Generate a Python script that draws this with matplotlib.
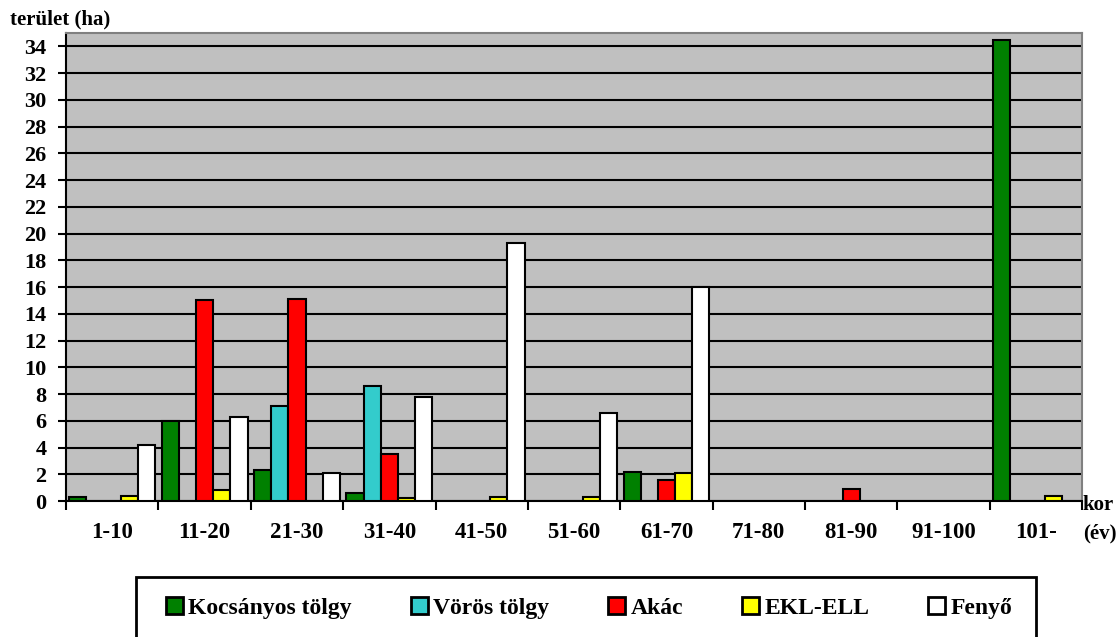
import numpy as np
import matplotlib.pyplot as plt
from matplotlib.patches import Patch, Rectangle

plt.rcParams['font.family'] = ['Liberation Serif', 'DejaVu Serif']
plt.rcParams['font.weight'] = 'bold'

categories = ["1-10", "11-20", "21-30", "31-40", "41-50", "51-60",
              "61-70", "71-80", "81-90", "91-100", "101-"]
kocsanyos = [0.3, 6.0, 2.3, 0.6, 0, 0, 2.2, 0, 0, 0, 34.5]
voros = [0, 0, 7.1, 8.6, 0, 0, 0, 0, 0, 0, 0]
akac = [0, 15.0, 15.1, 3.5, 0, 0, 1.6, 0, 0.9, 0, 0]
ekl_ell = [0.4, 0.8, 0, 0.2, 0.3, 0.3, 2.1, 0, 0, 0, 0.4]
fenyo = [4.2, 6.3, 2.1, 7.8, 19.3, 6.6, 16.0, 0, 0, 0, 0]

series = [
    ("Kocsányos tölgy", kocsanyos, "#008000"),
    ("Vörös tölgy", voros, "#33CCCC"),
    ("Akác", akac, "#FF0000"),
    ("EKL-ELL", ekl_ell, "#FFFF00"),
    ("Fenyő", fenyo, "#FFFFFF"),
]

fig = plt.figure(figsize=(11.18, 6.37), dpi=100)
ax = fig.add_axes([0.059, 0.2135, 0.909, 0.7345])
ax.set_facecolor("#C0C0C0")

x = np.arange(len(categories))
w = 0.186
for i, (name, vals, col) in enumerate(series):
    vals = np.array(vals)
    mask = vals > 0
    ax.bar(x[mask] + (i - 2) * w, vals[mask], width=w, color=col,
           edgecolor="black", linewidth=1.5, zorder=3)

ax.set_xlim(-0.5, len(categories) - 0.5)
ax.set_ylim(0, 35)
ax.set_yticks(range(0, 35, 2))
ax.yaxis.grid(True, color="black", linewidth=1.5, zorder=1)
ax.set_axisbelow(True)

ax.set_xticks(x)
ax.set_xticklabels(categories, fontsize=16.5, fontweight="bold")
ax.set_xticks(np.arange(-0.5, len(categories), 1), minor=True)
ax.tick_params(axis="x", which="major", length=0, pad=15)
ax.tick_params(axis="x", which="minor", length=6.5, width=1.5,
               direction="out")
ax.tick_params(axis="y", length=6, width=1.5, direction="out",
               labelsize=16, pad=8)
for lab in ax.get_yticklabels():
    lab.set_fontweight("bold")

for side in ["top", "right"]:
    ax.spines[side].set_color("#808080")
    ax.spines[side].set_linewidth(1.5)
for side in ["left", "bottom"]:
    ax.spines[side].set_color("black")
    ax.spines[side].set_linewidth(1.5)

fig.text(0.009, 0.969, "terület (ha)", fontsize=15, fontweight="bold",
         va="center", ha="left")
fig.text(0.968, 0.199, "kor", fontsize=15, fontweight="bold",
         va="baseline", ha="left")
fig.text(0.9687, 0.163, "(év)", fontsize=15, fontweight="bold",
         va="center", ha="left")

# legend box, open at the bottom edge of the image like the original
fig.patches.append(Rectangle((0.1216, -0.02), 0.805, 0.1142,
                             transform=fig.transFigure, fill=False,
                             edgecolor="black", linewidth=2))

handles = [Patch(facecolor=c, edgecolor="black", linewidth=2, label=n)
           for n, v, c in series]
leg = fig.legend(handles=handles, loc="center", ncol=5,
                 bbox_to_anchor=(0.527, 0.0455), frameon=False,
                 prop={"size": 17, "weight": "bold"}, handlelength=0.72,
                 handleheight=0.72, handletextpad=0.22, columnspacing=2.5,
                 borderpad=0)

fig.savefig("out.png", dpi=100)
